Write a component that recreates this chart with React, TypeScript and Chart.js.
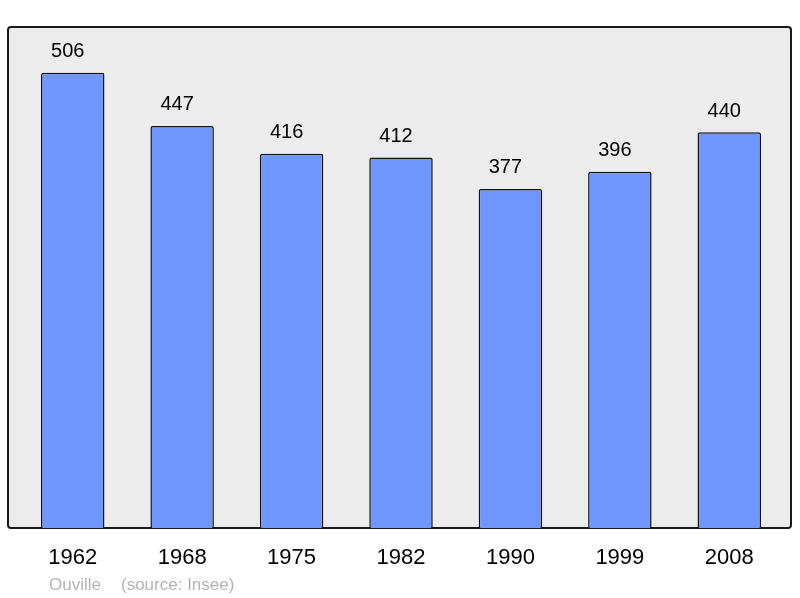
import { useEffect, useRef } from "react";
import { Chart, registerables } from "chart.js";

Chart.register(...registerables);

const years = ["1962", "1968", "1975", "1982", "1990", "1999", "2008"];
const population = [506, 447, 416, 412, 377, 396, 440];
const townName = "Ouville";
const sourceNote = "(source: Insee)";

const FONT = "'Liberation Sans', Arial, sans-serif";

// grey panel with a dark rounded border behind the plot
const panelPlugin = {
  id: "panel",
  beforeDraw(chart) {
    const { ctx, chartArea } = chart;
    const x = chartArea.left - 10;
    const y = chartArea.top;
    const w = chartArea.right - chartArea.left + 17;
    const h = chartArea.bottom - chartArea.top;
    ctx.save();
    ctx.beginPath();
    ctx.roundRect(x, y, w, h, 3);
    ctx.fillStyle = "#ececec";
    ctx.fill();
    ctx.lineWidth = 2;
    ctx.strokeStyle = "#1a1a1a";
    ctx.stroke();
    ctx.restore();
  },
};

// numbers above the bars (set a little left of centre, as in the source) and the footer line
const labelsPlugin = {
  id: "valueLabels",
  afterDatasetsDraw(chart) {
    const { ctx } = chart;
    const meta = chart.getDatasetMeta(0);
    ctx.save();
    ctx.fillStyle = "#000";
    ctx.font = `20px ${FONT}`;
    ctx.textAlign = "center";
    ctx.textBaseline = "middle";
    meta.data.forEach((bar, i) => {
      ctx.fillText(String(population[i]), bar.x - 5, bar.y - 21);
    });
    ctx.font = `17px ${FONT}`;
    ctx.fillStyle = "#b3b3b3";
    ctx.textAlign = "left";
    ctx.fillText(townName, 49, 585);
    ctx.fillText(sourceNote, 121, 585);
    ctx.restore();
  },
};

const PopulationChart = () => {
  const canvasRef = useRef(null);
  const chartRef = useRef(null);

  useEffect(() => {
    if (chartRef.current) {
      chartRef.current.destroy();
    }
    const ctx = canvasRef.current.getContext("2d");
    chartRef.current = new Chart(ctx, {
      type: "bar",
      data: {
        labels: years,
        datasets: [
          {
            data: population,
            backgroundColor: "#7097ff",
            borderColor: "#111",
            borderWidth: 1.5,
            borderSkipped: "bottom",
            borderRadius: 2,
            barPercentage: 0.58,
            categoryPercentage: 1,
          },
        ],
      },
      options: {
        animation: false,
        responsive: false,
        devicePixelRatio: 1,
        layout: { padding: { left: 18, right: 16, top: 27, bottom: 0 } },
        plugins: {
          legend: { display: false },
          tooltip: { enabled: false },
        },
        scales: {
          y: { display: false, min: 0, max: 557 },
          x: {
            grid: { display: false },
            border: { display: false },
            ticks: {
              color: "#000",
              font: { family: FONT, size: 22 },
              padding: 9,
            },
            afterFit(scale) {
              scale.height = 70;
            },
          },
        },
      },
      plugins: [panelPlugin, labelsPlugin],
    });

    return () => {
      if (chartRef.current) {
        chartRef.current.destroy();
        chartRef.current = null;
      }
    };
  }, []);

  return <canvas ref={canvasRef} width={800} height={598} />;
};

export default function App() {
  return (
    <div style={{ position: "absolute", left: 0, top: 0, width: 800, height: 598, background: "#fff" }}>
      <PopulationChart />
    </div>
  );
}
